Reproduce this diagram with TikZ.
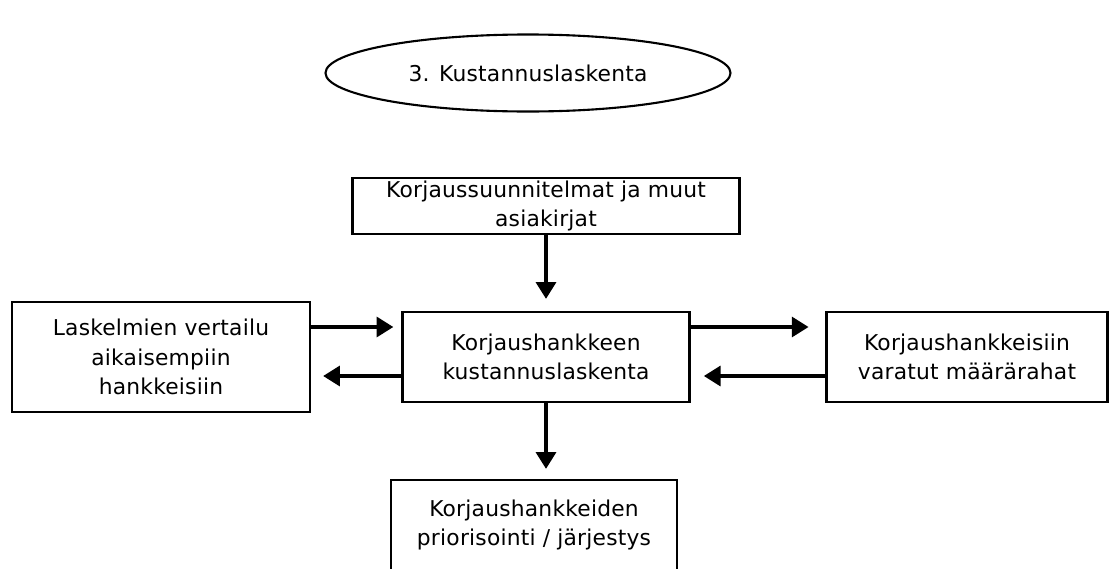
\documentclass[tikz,border=0pt]{standalone}
\usepackage{fontspec}
\setmainfont[LetterSpace=1]{DejaVu Sans}
\usetikzlibrary{positioning,shapes.geometric,arrows.meta}

\begin{document}
\begin{tikzpicture}[
    on grid,
    every node/.style={draw,line width=1.5pt,align=center,inner sep=2pt,font=\fontsize{15.5}{21}\selectfont},
    box/.style={rectangle,minimum width=#1},
    arrow/.style={line width=3.2pt,-{Triangle[length=12pt,width=14pt]}}
]
    \useasboundingbox (0,0) rectangle (27.8,-14.2);
    %Middle
    \node[box=7.175cm,minimum height=2.25cm] (M) at (13.65,-8.925) {Korjaushankkeen\\kustannuslaskenta};
    \node[box=9.675cm,minimum height=1.3cm,above=3.775cm of M] (T) {Korjaussuunnitelmat ja muut\\asiakirjat};
    \node[ellipse,inner sep=0pt,minimum width=10.125cm,minimum height=1.925cm,above left=3.325cm and .45cm of T] (E) {3. Kustannuslaskenta};
    %Sides
    \node[box=7.45cm,minimum height=2.75cm,left=9.625cm of M] (L) {Laskelmien vertailu\\aikaisempiin\\hankkeisiin};
    \node[box=7.025cm,minimum height=2.25cm,right=10.525cm of M] (R) {Korjaushankkeisiin\\varatut määrärahat};
    \node[box=7.15cm,minimum height=2.25cm,below left=4.2cm and .3cm of M] (B) {Korjaushankkeiden\\priorisointi / järjestys};
    %Arrows
    \draw[arrow,shorten >=.3cm] (T) -- (M);
    \draw[arrow,shorten >=.2cm] ([yshift=.75cm]L.east) -- ([yshift=.75cm]M.west);
    \draw[arrow,shorten >=.3cm] ([yshift=-.475cm]M.west) -- ([yshift=-.475cm]L.east);
    \draw[arrow,shorten >=.42cm] ([yshift=.75cm]M.east) -- ([yshift=.75cm]R.west);
    \draw[arrow,shorten >=.33cm] ([yshift=-.475cm]R.west) -- ([yshift=-.475cm]M.east);
    \draw[arrow,shorten >=.25cm] (M.south) -- (M.south |- B.north);
\end{tikzpicture}
\end{document}
